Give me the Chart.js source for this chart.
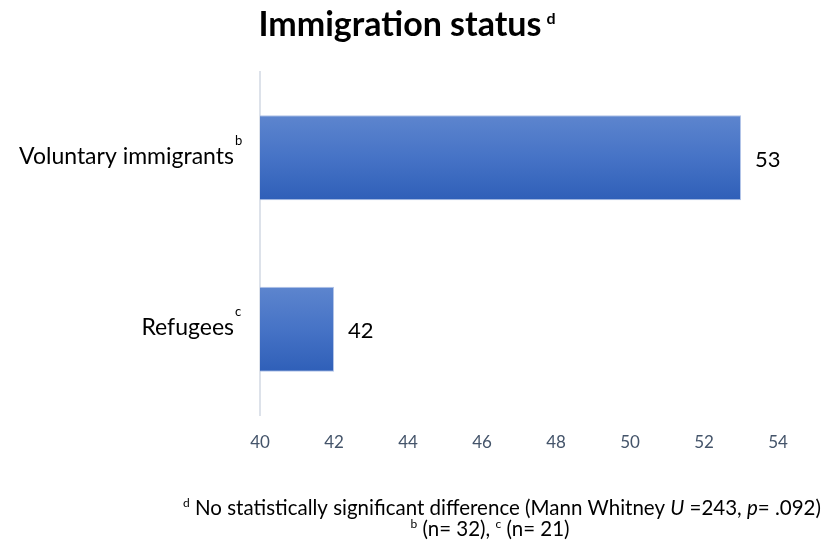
<!DOCTYPE html>
<html>
<head>
<meta charset="utf-8">
<script src="https://cdn.jsdelivr.net/npm/chart.js@4"></script>
<style>
  html, body { margin: 0; padding: 0; background: #ffffff; }
  #wrap { position: relative; width: 839px; height: 543px; }
</style>
</head>
<body>
<div id="wrap"><canvas id="c" width="839" height="543"></canvas></div>
<script>
// ---- data ----
const categories = ['Voluntary immigrants', 'Refugees'];
const categorySup = ['b', 'c'];
const values = [53, 42];
const xMin = 40;
const xMax = 54;
const xStep = 2;
const titleText = 'Immigration status';
const titleSup = 'd';
const footLine1 = [
  { t: 'd', sup: true },
  { t: ' No statistically significant difference (Mann Whitney ' },
  { t: 'U', it: true },
  { t: ' =243, ' },
  { t: 'p', it: true },
  { t: '= .092)' }
];
const footLine2 = [
  { t: 'b', sup: true },
  { t: ' (n= 32), ' },
  { t: 'c', sup: true },
  { t: ' (n= 21)' }
];

const FONT = 'Lato, "Open Sans", sans-serif';
const BAR_PCT = 0.496;

function drawRich(ctx, segs, cx, baseline, size, color) {
  const fontFor = s => (s.it ? 'italic ' : '') + (s.sup ? Math.round(size * 0.6) : size) + 'px ' + FONT;
  let total = 0;
  segs.forEach(s => { ctx.font = fontFor(s); total += ctx.measureText(s.t).width; });
  let x = cx - total / 2;
  ctx.fillStyle = color;
  ctx.textAlign = 'left';
  ctx.textBaseline = 'alphabetic';
  segs.forEach(s => {
    ctx.font = fontFor(s);
    ctx.fillText(s.t, x, baseline - (s.sup ? size * 0.38 : 0));
    x += ctx.measureText(s.t).width;
  });
}

function barGradient(context) {
  const chart = context.chart;
  const yScale = chart.scales && chart.scales.y;
  if (!yScale || !chart.chartArea || context.dataIndex === undefined) return '#4472c4';
  const yc = yScale.getPixelForValue(context.dataIndex);
  const band = (yScale.bottom - yScale.top) / categories.length;
  const half = band * BAR_PCT / 2;
  const g = chart.ctx.createLinearGradient(0, yc - half, 0, yc + half);
  g.addColorStop(0, '#5d85ce');
  g.addColorStop(0.5, '#4673c6');
  g.addColorStop(1, '#2f5fb8');
  return g;
}

const decorPlugin = {
  id: 'decor',
  afterDraw(chart) {
    const ctx = chart.ctx;
    const yScale = chart.scales.y;
    ctx.save();
    // title
    const tFont = 'bold 34px ' + FONT, sFont = 'bold 16px ' + FONT;
    ctx.font = tFont;
    const tw = ctx.measureText(titleText).width;
    ctx.font = sFont;
    const sw = ctx.measureText(titleSup).width;
    const tx = 407 - (tw + 5 + sw) / 2;
    ctx.fillStyle = '#000000';
    ctx.textAlign = 'left';
    ctx.textBaseline = 'alphabetic';
    ctx.font = tFont;
    ctx.fillText(titleText, tx, 36);
    ctx.font = sFont;
    ctx.fillText(titleSup, tx + tw + 5, 24);

    // category labels with superscripts
    categories.forEach((cat, i) => {
      const yc = yScale.getPixelForValue(i);
      ctx.font = '23px ' + FONT;
      ctx.textAlign = 'right';
      ctx.fillStyle = '#000000';
      ctx.fillText(cat, 234, yc + 6);
      ctx.font = '13px ' + FONT;
      ctx.textAlign = 'left';
      ctx.fillText(categorySup[i], 235, yc - 13);
    });

    // value labels
    const meta = chart.getDatasetMeta(0);
    ctx.font = '22px ' + FONT;
    ctx.textAlign = 'left';
    ctx.textBaseline = 'middle';
    ctx.fillStyle = '#000000';
    meta.data.forEach((el, i) => {
      ctx.fillText(String(values[i]), el.x + 14, el.y + 2);
    });

    // footnotes
    drawRich(ctx, footLine1, 502, 515, 20.5, '#000000');
    drawRich(ctx, footLine2, 490, 536, 20.5, '#000000');
    ctx.restore();
  }
};

new Chart(document.getElementById('c'), {
  type: 'bar',
  data: {
    labels: categories,
    datasets: [{
      data: values,
      backgroundColor: barGradient,
      borderColor: 'rgba(170,190,230,0.9)',
      borderWidth: 1,
      borderSkipped: false,
      categoryPercentage: 1.0,
      barPercentage: BAR_PCT
    }]
  },
  options: {
    indexAxis: 'y',
    responsive: false,
    animation: false,
    devicePixelRatio: 1,
    layout: { padding: { left: 0, right: 61, top: 72, bottom: 0 } },
    plugins: {
      legend: { display: false },
      title: { display: false },
      tooltip: { enabled: false }
    },
    scales: {
      x: {
        type: 'linear',
        min: xMin,
        max: xMax,
        ticks: {
          stepSize: xStep,
          padding: 17,
          color: '#44546a',
          font: { family: FONT, size: 17 }
        },
        grid: { display: false, drawTicks: false },
        border: { display: false },
        afterFit(scale) { scale.height = 543 - 415; }
      },
      y: {
        type: 'category',
        ticks: { display: false },
        grid: { display: false, drawTicks: false },
        border: { display: true, color: '#dde2ea', width: 2 },
        afterFit(scale) { scale.width = 260; }
      }
    }
  },
  plugins: [decorPlugin]
});
</script>
</body>
</html>
